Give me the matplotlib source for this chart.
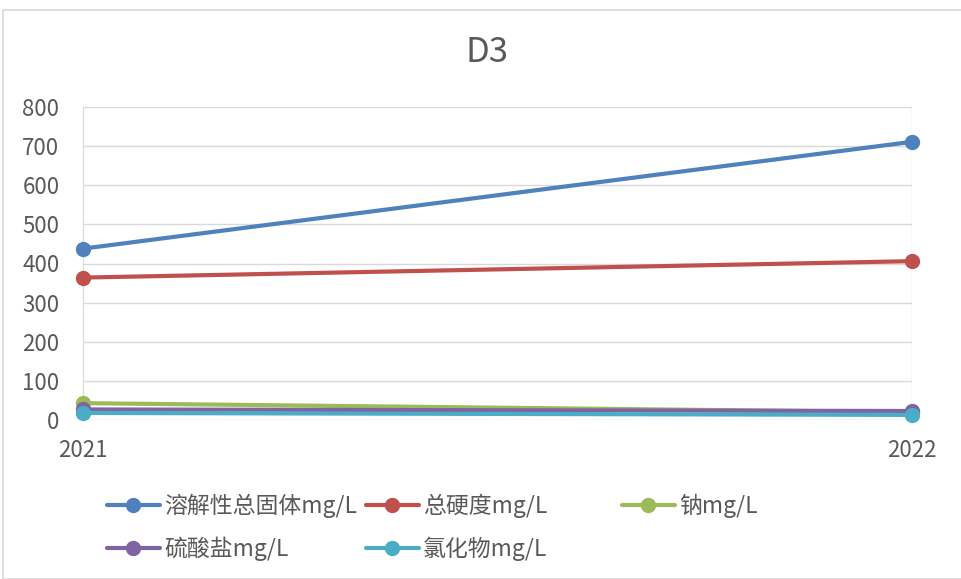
import matplotlib
matplotlib.use("Agg")
import matplotlib.pyplot as plt
from matplotlib.patches import Rectangle

plt.rcParams['font.family'] = ['Noto Sans CJK SC', 'DejaVu Sans']

# data
years = ['2021', '2022']
tds = [438, 711]          # 溶解性总固体
hardness = [364, 406]     # 总硬度
sodium = [43, 20]         # 钠
sulfate = [27, 23]        # 硫酸盐
chloride = [18, 13]       # 氯化物

labels = ['溶解性总固体mg/L', '总硬度mg/L', '钠mg/L', '硫酸盐mg/L', '氯化物mg/L']
colors = ['#4f81bd', '#c0504d', '#9bbb59', '#8064a2', '#4bacc6']
series = [tds, hardness, sodium, sulfate, chloride]

fig = plt.figure(figsize=(9.62, 5.79), dpi=100)
ax = fig.add_axes([83 / 962, 1 - 420 / 579, (912 - 83) / 962, (420 - 107) / 579])

# chart area border
fig.patches.append(Rectangle((3 / 962, 0), 1, 1 - 10 / 579, transform=fig.transFigure,
                             fill=False, edgecolor='#d9d9d9', linewidth=1.2))

x = range(len(years))
handles = []
for vals, c, lab in zip(series, colors, labels):
    h, = ax.plot(x, vals, color=c, linewidth=3, marker='o', markersize=10,
                 label=lab, solid_capstyle='round', clip_on=False, zorder=3)
    handles.append(h)

ax.set_xlim(0, 1)
ax.set_ylim(0, 800)
ax.set_yticks(range(0, 801, 100))
ax.set_xticks(list(x))
ax.set_xticklabels(years)
ax.grid(axis='y', color='#d9d9d9', linewidth=1)
ax.axvline(1, color='#d9d9d9', linewidth=1, zorder=1)
for s in ['top', 'right', 'bottom']:
    ax.spines[s].set_visible(False)
ax.spines['left'].set_color('#d9d9d9')
ax.tick_params(length=0, labelsize=16, labelcolor='#595959')
ax.tick_params(axis='x', pad=14)
ax.tick_params(axis='y', pad=17)

fig.text(487 / 962, 1 - 52 / 579, 'D3', ha='center', va='center', fontsize=25, color='#595959')

# legend: three columns laid out like the original
col_x = [107 / 962, 366 / 962, 622 / 962]
cols = [[0, 3], [1, 4], [2]]
for cx, idx in zip(col_x, cols):
    fig.legend([handles[i] for i in idx], [labels[i] for i in idx],
               loc='upper left', bbox_to_anchor=(cx, 1 - 494 / 579),
               frameon=False, fontsize=16.5, labelcolor='#595959',
               handlelength=2.3, handletextpad=0.2, labelspacing=0.78,
               borderaxespad=0, borderpad=0)

fig.savefig('out.png', dpi=100)
